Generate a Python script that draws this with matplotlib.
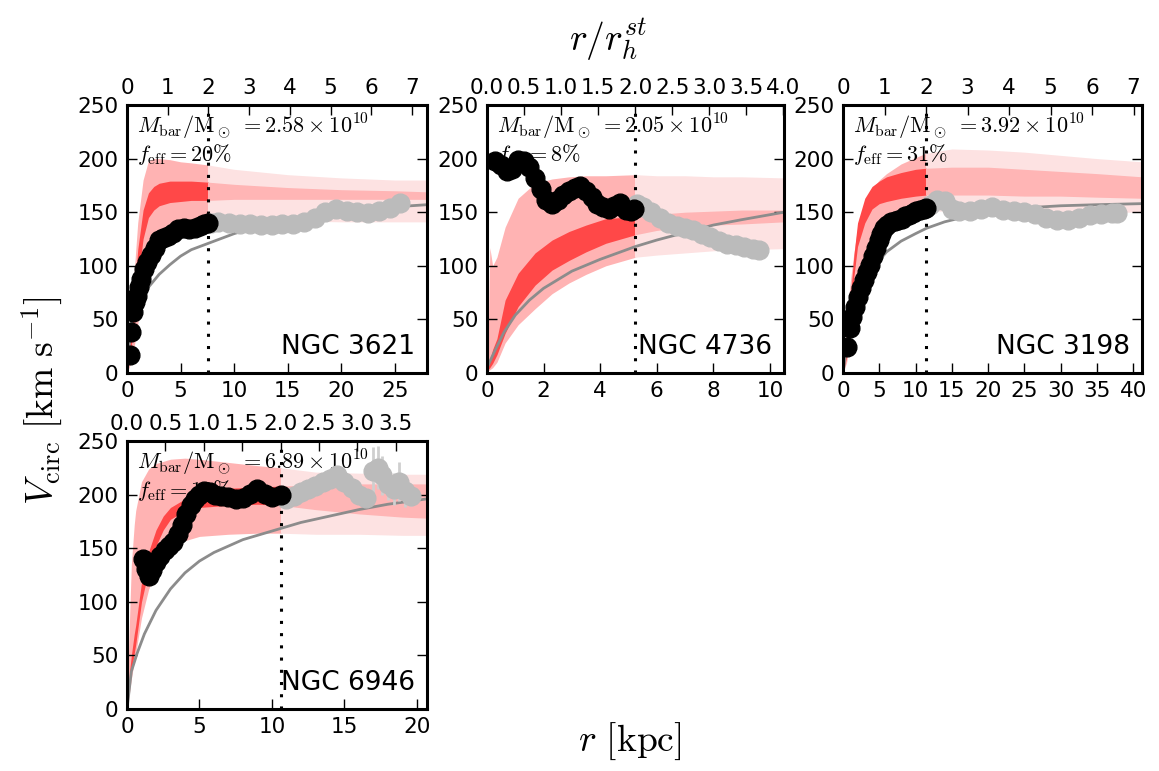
import numpy as np
import matplotlib.pyplot as plt
from matplotlib.patches import Rectangle
from matplotlib.ticker import MultipleLocator

plt.rcParams['mathtext.fontset'] = 'cm'
plt.rcParams['font.family'] = ['DejaVu Sans']

# galaxy labels and global numbers
names = ['NGC 3621', 'NGC 4736', 'NGC 3198', 'NGC 6946']
mbar = ['2.58', '2.05', '3.92', '6.89']
feff = ['20', '8', '31', '10']
r_half = [3.8, 2.62, 5.72, 5.3]      # kpc, stellar half-mass radius
r_max = [28.0, 10.5, 41.2, 20.7]     # kpc, right edge of the panels
step_bot = [5, 2, 5, 5]
step_top = [1, 0.5, 1, 0.5]

# ---- NGC 3621 ----
band1_r = [0, 0.3, 0.6, 1.0, 1.5, 2.0, 2.5, 3, 4, 5, 6, 7.6, 10, 15, 20, 25, 28]
band1_hi2 = [0, 40, 85, 140, 180, 198, 200, 200, 199, 197, 196, 194, 190, 185, 182, 180, 180]
band1_hi1 = [0, 30, 65, 115, 152, 168, 174, 177, 179, 179, 179, 178, 176, 173, 171, 170, 169]
band1_lo1 = [0, 18, 40, 85, 125, 145, 152, 156, 159, 160, 161, 161, 162, 162, 162, 162, 162]
band1_lo2 = [0, 8, 20, 45, 85, 110, 122, 130, 137, 140, 141, 142, 142, 142, 141, 141, 141]
mod1_r = [0, 0.3, 0.5, 1, 2, 3, 4, 5, 6, 7.6, 10, 12, 15, 20, 25, 28]
mod1_v = [0, 38, 52, 64, 80, 92, 101, 109, 115, 121, 130, 136, 142, 150, 155, 157]
in1_r = [0.25, 0.4, 0.55, 0.7, 0.9, 1.1, 1.3, 1.6, 1.9, 2.2, 2.6, 3.0, 3.4, 3.8, 4.3,
         4.8, 5.3, 5.8, 6.3, 6.8, 7.2, 7.6]
in1_v = [17, 38, 57, 66, 72, 80, 88, 97, 104, 110, 117, 124, 126, 128, 131,
         134, 135, 134, 135, 137, 139, 140]
out1_r = [7.8, 8.5, 9.5, 10.5, 11.5, 12.5, 13.5, 14.5, 15.5, 16.5, 17.5, 18.5, 19.5,
          20.5, 21.5, 22.5, 23.5, 24.5, 25.5]
out1_v = [140, 141, 140, 139, 139, 138, 138, 139, 139, 141, 145, 150, 153,
          151, 150, 149, 151, 154, 159]

# ---- NGC 4736 ----
band2_r = [0.03, 0.1, 0.2, 0.35, 0.64, 1.1, 1.7, 2.3, 2.9, 3.5, 4.2, 5.25, 6, 7, 8, 9, 10.5]
band2_hi2 = [10, 117, 100, 108, 136, 163, 177, 181, 183, 184, 184, 185, 184, 184, 183, 183, 182]
band2_hi1 = [5, 12, 22, 32, 68, 93, 112, 124, 132, 138, 144, 146, 148, 150, 151, 152, 152]
band2_lo1 = [3, 5, 9, 17, 37, 62, 82, 96, 105, 113, 121, 129, 133, 136, 138, 139, 141]
band2_lo2 = [2, 3, 5, 10, 28, 45, 60, 74, 84, 92, 100, 108, 110, 112, 114, 115, 116]
mod2_r = [0, 0.3, 0.6, 1.0, 1.5, 2, 3, 4, 5.25, 6, 7, 8, 9, 10.5]
mod2_v = [5, 22, 38, 54, 68, 79, 95, 106, 118, 124, 131, 138, 143, 150]
in2_r = [0.3, 0.5, 0.7, 0.9, 1.1, 1.3, 1.5, 1.7, 1.9, 2.1, 2.3, 2.5, 2.7, 2.9, 3.1,
         3.3, 3.5, 3.7, 3.9, 4.1, 4.3, 4.5, 4.7, 4.9, 5.1, 5.2]
in2_v = [198, 194, 188, 190, 199, 198, 192, 182, 172, 161, 158, 161, 166, 170, 173,
         174, 170, 164, 158, 155, 153, 156, 159, 152, 151, 153]
out2_r = [5.3, 5.5, 5.8, 6.1, 6.4, 6.7, 7.0, 7.3, 7.6, 7.9, 8.2, 8.5, 8.8, 9.1, 9.4, 9.6]
out2_v = [158, 155, 150, 145, 140, 137, 135, 133, 130, 127, 123, 120, 119, 118, 116, 115]

# ---- NGC 3198 ----
band3_r = [0, 0.5, 1, 1.5, 2, 3, 4, 5, 6, 8, 10, 11.45, 15, 20, 25, 30, 35, 41.2]
band3_hi2 = [0, 50, 85, 112, 135, 158, 172, 180, 186, 195, 201, 205, 209, 208, 206, 203, 200, 197]
band3_hi1 = [0, 35, 70, 110, 140, 163, 174, 179, 183, 187, 190, 191, 192, 192, 190, 188, 186, 183]
band3_lo1 = [0, 15, 40, 90, 118, 140, 153, 158, 160, 163, 165, 166, 166, 166, 165, 165, 164, 163]
band3_lo2 = [0, 10, 30, 55, 75, 100, 117, 128, 135, 143, 148, 151, 151, 151, 150, 150, 150, 150]
mod3_r = [0, 0.5, 1, 2, 3, 4, 5, 6, 8, 10, 11.5, 14, 17, 20, 25, 30, 35, 41.2]
mod3_v = [0, 25, 42, 65, 82, 95, 105, 113, 123, 130, 135, 141, 146, 150, 154, 156, 157, 158]
in3_r = [0.5, 0.9, 1.3, 1.7, 2.1, 2.5, 2.9, 3.3, 3.7, 4.1, 4.5, 4.9, 5.3, 5.7, 6.1,
         6.6, 7.1, 7.6, 8.1, 8.6, 9.1, 9.6, 10.1, 10.6, 11.1, 11.5]
in3_v = [24, 42, 52, 62, 71, 79, 87, 94, 101, 109, 117, 124, 130, 135, 138,
         141, 142, 143, 144, 146, 147, 149, 151, 152, 153, 154]
out3_r = [12.0, 13.0, 14.0, 15.0, 16.0, 17.5, 19, 20.5, 22, 23.5, 25, 26.5, 28, 29.5,
          31, 32.5, 34, 35.5, 37, 37.8]
out3_v = [157, 161, 160, 153, 151, 151, 153, 155, 152, 151, 150, 148, 145, 143,
          143, 145, 147, 148, 149, 149]

# ---- NGC 6946 ----
band4_r = [0, 0.1, 0.2, 0.3, 0.5, 0.6, 1, 1.5, 2, 2.5, 3, 4, 5, 7, 9, 10.6, 13, 16, 19, 20.7]
band4_hi2 = [0, 50, 95, 135, 172, 185, 212, 224, 229, 231, 233, 234, 233, 230, 227, 225, 221, 220, 219, 219]
band4_hi1 = [0, 20, 38, 50, 70, 78, 118, 147, 167, 180, 188, 196, 203, 206, 207, 208, 209, 210, 210, 210]
band4_lo1 = [0, 12, 25, 35, 52, 60, 100, 130, 152, 167, 177, 185, 188, 190, 191, 190, 186, 182, 179, 178]
band4_lo2 = [0, 8, 18, 28, 45, 52, 85, 112, 128, 140, 148, 157, 161, 163, 164, 164, 163, 163, 162, 162]
mod4_r = [0, 0.3, 0.7, 1.2, 2, 3, 4, 5, 6, 8, 10, 12, 14, 16, 18, 20.7]
mod4_v = [0, 35, 52, 70, 92, 112, 127, 138, 146, 158, 166, 174, 180, 186, 191, 196]
in4_r = [1.1, 1.3, 1.5, 1.7, 2.0, 2.3, 2.6, 2.9, 3.2, 3.5, 3.8, 4.1, 4.4, 4.7, 5.0,
         5.3, 5.7, 6.1, 6.5, 7.0, 7.5, 8.0, 8.5, 9.0, 9.5, 10.0, 10.6]
in4_v = [140, 131, 124, 130, 137, 143, 148, 152, 156, 163, 172, 182, 190, 196, 200,
         203, 202, 200, 199, 198, 196, 197, 201, 205, 201, 198, 200]
out4_r = [11.0, 11.5, 12.0, 12.5, 13.0, 13.5, 14.0, 14.5, 15.0, 15.5, 16.0, 16.5, 17.0,
          17.3, 17.6, 18.0, 18.4, 18.8, 19.2, 19.6]
out4_v = [196, 199, 202, 205, 208, 212, 215, 218, 212, 206, 200, 197, 222, 225,
          218, 210, 205, 212, 203, 199]
out4_err = [3, 3, 3, 4, 4, 4, 5, 5, 5, 6, 8, 8, 22, 20, 18, 15, 15, 18, 15, 10]

bands = [(band1_r, band1_lo2, band1_lo1, band1_hi1, band1_hi2),
         (band2_r, band2_lo2, band2_lo1, band2_hi1, band2_hi2),
         (band3_r, band3_lo2, band3_lo1, band3_hi1, band3_hi2),
         (band4_r, band4_lo2, band4_lo1, band4_hi1, band4_hi2)]
models = [(mod1_r, mod1_v), (mod2_r, mod2_v), (mod3_r, mod3_v), (mod4_r, mod4_v)]
inner = [(in1_r, in1_v), (in2_r, in2_v), (in3_r, in3_v), (in4_r, in4_v)]
outer = [(out1_r, out1_v, None), (out2_r, out2_v, None),
         (out3_r, out3_v, None), (out4_r, out4_v, out4_err)]

# panel boxes in pixels: left, top, width, height
W, H = 1159, 771
boxes = [(127, 105, 300, 268), (487, 105, 297, 268),
         (843, 105, 299, 268), (127, 441, 300, 268)]

fig = plt.figure(figsize=(W / 100, H / 100), dpi=100)

for i in range(4):
    x0, y0, w, h = boxes[i]
    ax = fig.add_axes([x0 / W, 1 - (y0 + h) / H, w / W, h / H])
    rh = r_half[i]
    rcut = 2 * rh

    r, lo2, lo1, hi1, hi2 = bands[i]
    clip_in = Rectangle((-1, -10), rcut + 1, 300, transform=ax.transData)
    clip_out = Rectangle((rcut, -10), 100, 300, transform=ax.transData)
    # weaker colours beyond 2 r_h, stronger inside
    for lo, hi, c_in, c_out, z in [(lo2, hi2, '#ffb3b3', '#fde2e2', 1),
                                   (lo1, hi1, '#ff4848', '#ffb5b5', 1.1)]:
        p = ax.fill_between(r, lo, hi, color=c_in, lw=0, zorder=z)
        p.set_clip_path(clip_in)
        p = ax.fill_between(r, lo, hi, color=c_out, lw=0, zorder=z)
        p.set_clip_path(clip_out)

    mr, mv = models[i]
    ax.plot(mr, mv, color='#8c8c8c', lw=2, zorder=2)

    ax.text(0.033, 0.893, r'$M_{\rm bar}/{\rm M}_\odot\;=2.58\times10^{10}$'.replace('2.58', mbar[i]),
            transform=ax.transAxes, fontsize=16, va='baseline', ha='left', zorder=2.5)
    ax.text(0.033, 0.79, r'$f_{\rm eff}=%s\%%$' % feff[i],
            transform=ax.transAxes, fontsize=16, va='baseline', ha='left', zorder=2.5)

    ax.axvline(rcut, color='black', ls=(0, (1, 3)), lw=2.2, zorder=2.8)

    orr, ov, oerr = outer[i]
    if oerr is not None:
        ax.errorbar(orr, ov, yerr=oerr, fmt='none', ecolor='#cfcfcf', elinewidth=2, zorder=2.9)
    ax.plot(orr, ov, 'o', color='#bbbbbb', mec='#bbbbbb', ms=13.5, zorder=3)
    irr, iv = inner[i]
    ax.plot(irr, iv, 'o', color='black', mec='black', ms=13.5, zorder=4)

    ax.text(0.96, 0.05, names[i], transform=ax.transAxes, fontsize=19,
            ha='right', va='bottom', zorder=5)

    ax.set_xlim(0, r_max[i])
    ax.set_ylim(0, 250)
    ax.set_yticks(np.arange(0, 251, 50))
    ax.xaxis.set_major_locator(MultipleLocator(step_bot[i]))
    ax.tick_params(direction='in', length=7, width=1, labelsize=15.5, pad=6,
                   top=False, right=True)
    for s in ax.spines.values():
        s.set_linewidth(2.2)

    axt = ax.twiny()
    axt.set_xlim(0, r_max[i] / rh)
    axt.xaxis.set_major_locator(MultipleLocator(step_top[i]))
    axt.tick_params(direction='in', length=7, width=1, labelsize=15.5, pad=5)

fig.text(0.5246, 0.948, r'$r/r_h^{st}$', fontsize=27, ha='center', va='center')
fig.text(0.5436, 0.038, r'$r\ [{\rm kpc}]$', fontsize=27, ha='center', va='center')
fig.text(0.037, 0.481, r'$V_{\rm circ}\ [{\rm km\ s^{-1}}]$', fontsize=27,
         rotation=90, ha='center', va='center')

fig.savefig('out.png', dpi=100)
